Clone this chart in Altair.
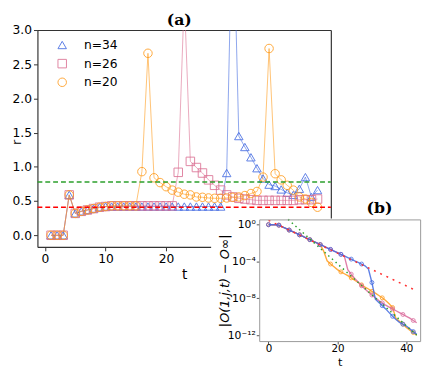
import altair as alt
import pandas as pd

# ---------------- panel (a): r versus t ----------------
t_main = list(range(1, 46))
r_n34 = [0, 0, 0, 0.59, 0.32, 0.35, 0.37, 0.39, 0.41, 0.42, 0.42, 0.42, 0.42, 0.42, 0.42,
         0.42, 0.42, 0.42, 0.42, 0.42, 0.42, 0.42, 0.42, 0.42, 0.42, 0.42, 0.42, 0.42, 0.42,
         0.91, 5.0, 1.45, 1.29, 1.14, 0.98, 0.83, 0.74, 0.72, 0.67, 0.62, 0.59, 0.68, 0.85, 0.56, 0.66]
r_n26 = [0, 0, 0, 0.59, 0.32, 0.35, 0.37, 0.39, 0.41, 0.42, 0.43, 0.43, 0.43, 0.43, 0.43,
         0.43, 0.43, 0.43, 0.43, 0.43, 0.43,
         0.92, 3.5, 1.08, 0.99, 0.91, 0.81, 0.73, 0.66, 0.59, 0.56, 0.54, 0.53, 0.52, 0.51,
         0.51, 0.51, 0.51, 0.51, 0.51, 0.51, 0.52, 0.52, 0.52, 0.53]
r_n20 = [0, 0, 0, 0.59, 0.32, 0.35, 0.37, 0.39, 0.41, 0.42, 0.43, 0.43, 0.43, 0.43, 0.43,
         0.93, 2.66, 0.84, 0.77, 0.71, 0.66, 0.63, 0.60, 0.59, 0.56, 0.555, 0.545, 0.54, 0.54,
         0.545, 0.555, 0.56, 0.58, 0.61, 0.64, 0.85, 2.73, 0.90, 0.81, 0.73, 0.66, 0.56, 0.53,
         0.48, 0.41]
series_names = ["n=34", "n=26", "n=20"]
series_colors = ["#4169e1", "#db7093", "#ff9a1a"]
series_shapes = ["triangle-up", "square", "circle"]
level_red = 0.41
level_green = 0.78
main_x_ticks = [0, 10, 20]
main_y_ticks = [0, 0.5, 1.0, 1.5, 2.0, 2.5, 3.0]

# ---------------- panel (b): |O(1,j,t) - O_inf| (log10 values) ----------------
t_inset = list(range(0, 44))
log_common = [-0.05, -0.05, -0.05, -0.1, -0.28, -0.45, -0.63, -0.8, -0.97, -1.15, -1.32,
              -1.5, -1.67, -1.85, -2.02, -2.2]
log_n34 = log_common + [-2.37, -2.55, -2.72, -2.9, -3.07, -3.25, -3.42, -3.6, -3.77, -3.95,
                        -4.12, -4.3, -4.5, -4.85, -6.3, -8.1, -8.45, -8.8, -9.15, -9.55,
                        -9.95, -10.3, -10.6, -10.8, -11.0, -11.3, -11.6, -11.9]
log_n26 = log_common + [-2.37, -2.55, -2.72, -2.9, -3.07, -3.25, -3.45, -4.9, -5.4, -5.85,
                        -6.25, -6.65, -7.0, -7.35, -7.65, -7.95, -8.25, -8.5, -8.75, -8.95,
                        -9.15, -9.35, -9.55, -9.75, -9.95, -10.15, -10.4, -10.65]
log_n20 = log_common + [-2.9, -3.95, -4.3, -4.6, -4.9, -5.15, -5.35, -5.55, -5.8, -6.05,
                        -6.3, -6.55, -6.8, -7.0, -7.25, -7.45, -7.7, -7.95, -8.25, -8.6,
                        -9.0, -10.2, -10.5, -10.8, -11.15, -11.45, -11.7, -12.0]
fit_red_t = [0, 43]
fit_red_log = [0.42, -7.2]
fit_green_t = [5.7, 43]
fit_green_log = [0.52, -11.98]
inset_x_ticks = [0, 20, 40]
inset_y_ticks = [1, 1e-4, 1e-8, 1e-12]

# ---------------- tables ----------------
rows = []
for name, vals in zip(series_names, [r_n34, r_n26, r_n20]):
    for t, r in zip(t_main, vals):
        rows.append({"t": t, "r": r, "series": name})
main_df = pd.DataFrame(rows)

irows = []
for name, vals in zip(series_names, [log_n34, log_n26, log_n20]):
    for t, v in zip(t_inset, vals):
        irows.append({"t": t, "v": 10 ** v, "series": name, "mk": t % 3 == 0})
inset_df = pd.DataFrame(irows)
fit_red_df = pd.DataFrame({"t": fit_red_t, "v": [10 ** v for v in fit_red_log]})
fit_green_df = pd.DataFrame({"t": fit_green_t, "v": [10 ** v for v in fit_green_log]})
hl_df = pd.DataFrame({"x0": [-1.25], "x1": [47.2], "red": [level_red], "green": [level_green]})
one = pd.DataFrame({"k": [0]})

FONT = "DejaVu Sans"
X_MAIN = alt.Scale(domain=[-1.25, 47.2], range=[0, 299], nice=False, zero=False)
Y_MAIN = alt.Scale(domain=[-0.17, 3.0], range=[221, 0], nice=False, zero=False)
X_IN = alt.Scale(domain=[-2.7, 44.0], range=[226, 390], nice=False, zero=False)
Y_IN = alt.Scale(type="log", domain=[10 ** -12.63, 10 ** 0.52], range=[317, 193], nice=False)

ax_common = dict(domainColor="#333", tickColor="#333", labelColor="black", tickSize=4,
                 labelFont=FONT, titleFont=FONT, grid=False, labelFlush=False,
                 titleFontWeight="normal", domainWidth=1.2)

# ---- main lines ----
layers = []
for name, col in zip(series_names, series_colors):
    layers.append(
        alt.Chart(main_df).transform_filter(alt.datum.series == name)
        .mark_line(color=col, strokeWidth=1, opacity=0.6, clip=True)
        .encode(x=alt.X("t:Q", scale=X_MAIN, axis=None),
                y=alt.Y("r:Q", scale=Y_MAIN, axis=None))
    )

# ---- main points with axes and legend ----
points = alt.Chart(main_df).mark_point(filled=False, size=75, strokeWidth=1, opacity=0.85, clip=True).encode(
    x=alt.X("t:Q", scale=X_MAIN,
            axis=alt.Axis(orient="bottom", offset=-98, values=main_x_ticks, title="t",
                          labelFontSize=12.5, titleFontSize=14, labelPadding=2, titlePadding=3,
                          **ax_common)),
    y=alt.Y("r:Q", scale=Y_MAIN,
            axis=alt.Axis(orient="left", values=main_y_ticks, format=".1f",
                          title="r", labelFontSize=12.5, titleFontSize=13, labelPadding=2,
                          titleX=-21, titleY=114, titleBaseline="middle", **ax_common)),
    color=alt.Color("series:N", scale=alt.Scale(domain=series_names, range=series_colors),
                    legend=alt.Legend(orient="none", legendX=19, legendY=9, title=None,
                                      labelFont=FONT, labelFontSize=12.5, labelOffset=16,
                                      symbolSize=75, symbolStrokeWidth=1, rowPadding=5,
                                      padding=0)),
    shape=alt.Shape("series:N", scale=alt.Scale(domain=series_names, range=series_shapes),
                    legend=alt.Legend(orient="none", legendX=19, legendY=9, title=None)),
)
layers.append(points)

# ---- dashed levels ----
layers.append(
    alt.Chart(hl_df).mark_rule(color="#2ca02c", strokeDash=[5, 3], strokeWidth=1.5)
    .encode(x=alt.X("x0:Q", scale=X_MAIN, axis=None), x2="x1:Q",
            y=alt.Y("green:Q", scale=Y_MAIN, axis=None))
)
layers.append(
    alt.Chart(hl_df).mark_rule(color="#ff0000", strokeDash=[5, 3], strokeWidth=1.5)
    .encode(x=alt.X("x0:Q", scale=X_MAIN, axis=None), x2="x1:Q",
            y=alt.Y("red:Q", scale=Y_MAIN, axis=None))
)

# ---- main frame (top / right) ----
frame_common = dict(ticks=False, labels=False, title=None, domainColor="#333", domainWidth=1.2, grid=False)
layers.append(
    alt.Chart(main_df).mark_point(opacity=0).encode(
        x=alt.X("t:Q", scale=X_MAIN, axis=alt.Axis(orient="top", **frame_common)),
        y=alt.Y("r:Q", scale=Y_MAIN, axis=alt.Axis(orient="right", offset=-91, **frame_common)),
    )
)

# ---- white background of inset ----
layers.append(
    alt.Chart(one).mark_rect(color="white").encode(
        x=alt.value(177), x2=alt.value(400), y=alt.value(192), y2=alt.value(345))
)

# ---- annotations ----
layers.append(alt.Chart(one).mark_text(text="(a)", font="DejaVu Serif", fontSize=16, fontWeight="bold",
                                       baseline="middle", align="center")
              .encode(x=alt.value(144.5), y=alt.value(-10)))
layers.append(alt.Chart(one).mark_text(text="(b)", font="DejaVu Serif", fontSize=16, fontWeight="bold",
                                       baseline="middle", align="center")
              .encode(x=alt.value(348.5), y=alt.value(181)))

# ---- inset lines ----
in_ax = dict(domainColor="#999", tickColor="#555", labelColor="black", tickSize=3,
             labelFont=FONT, titleFont=FONT, grid=False, labelFlush=False,
             titleFontWeight="normal", zindex=1)
inset_order = [("n=20", "#ff9a1a"), ("n=26", "#d9689a"), ("n=34", "#4169e1")]
first = True
for name, col in inset_order:
    if first:
        xax = alt.Axis(orient="bottom", offset=-2, values=inset_x_ticks, title="t", labelFontSize=10.5,
                       titleFontSize=11.5, labelPadding=0, titleY=25, titleBaseline="alphabetic",
                       **in_ax)
        yax = alt.Axis(orient="left", offset=-226, values=inset_y_ticks,
                       labelExpr="datum.value > 0.1 ? '10⁰' : datum.value > 1e-6 ? '10⁻⁴' : datum.value > 1e-10 ? '10⁻⁸' : '10⁻¹²'",
                       title="|O(1,j,t) − O∞|", labelFontSize=11, titleFontSize=13, labelPadding=1,
                       titleX=-35, titleY=255, titleBaseline="middle", titleFontStyle="italic", **in_ax)
        first = False
    else:
        xax = None
        yax = None
    layers.append(
        alt.Chart(inset_df).transform_filter(alt.datum.series == name)
        .mark_line(color=col, strokeWidth=1.4, opacity=0.85)
        .encode(x=alt.X("t:Q", scale=X_IN, axis=xax), y=alt.Y("v:Q", scale=Y_IN, axis=yax))
    )
    layers.append(
        alt.Chart(inset_df).transform_filter((alt.datum.series == name) & alt.datum.mk)
        .mark_point(color=col, filled=False, size=16, strokeWidth=1, opacity=0.8)
        .encode(x=alt.X("t:Q", scale=X_IN, axis=None), y=alt.Y("v:Q", scale=Y_IN, axis=None))
    )

layers.append(
    alt.Chart(fit_red_df).mark_line(color="#ff3030", strokeDash=[2, 5], strokeWidth=1.5)
    .encode(x=alt.X("t:Q", scale=X_IN, axis=None), y=alt.Y("v:Q", scale=Y_IN, axis=None))
)
layers.append(
    alt.Chart(fit_green_df).mark_line(color="#2ca02c", strokeDash=[1.5, 3.5], strokeWidth=1.5)
    .encode(x=alt.X("t:Q", scale=X_IN, axis=None), y=alt.Y("v:Q", scale=Y_IN, axis=None))
)

# ---- inset frame (top / right) ----
in_frame = dict(ticks=False, labels=False, title=None, domainColor="#999", grid=False, zindex=1)
layers.append(
    alt.Chart(inset_df).mark_point(opacity=0).encode(
        x=alt.X("t:Q", scale=X_IN, axis=alt.Axis(orient="top", offset=-193, **in_frame)),
        y=alt.Y("v:Q", scale=Y_IN, axis=alt.Axis(orient="right", offset=0, **in_frame)),
    )
)

chart = (
    alt.layer(*layers)
    .resolve_scale(x="independent", y="independent")
    .properties(
        width=390, height=319,
        autosize=alt.AutoSizeParams(type="none"),
        padding={"left": 30, "top": 19, "right": 8, "bottom": 24},
    )
    .configure(font=FONT)
    .configure_view(stroke=None)
)

chart.save("out.html", embed_options={"renderer": "svg", "actions": False})
